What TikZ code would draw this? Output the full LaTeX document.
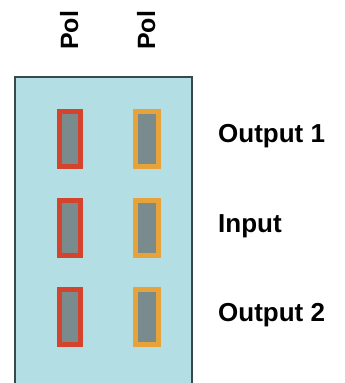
\documentclass[tikz,border=0pt]{standalone}
\usepackage{fontspec}
\setmainfont{Liberation Sans}
\definecolor{bgblue}{HTML}{B3DEE3}
\definecolor{padred}{HTML}{D4442C}
\definecolor{padorange}{HTML}{E8A23A}
\definecolor{padgray}{HTML}{7A8B8E}
\definecolor{frame}{HTML}{37494D}
\begin{document}
\begin{tikzpicture}[x=1pt,y=1pt,
  redpad/.style={rectangle,draw=padred,fill=padgray,line width=5pt,minimum width=21pt,minimum height=55pt,inner sep=0pt},
  orangepad/.style={rectangle,draw=padorange,fill=padgray,line width=5pt,minimum width=23pt,minimum height=55pt,inner sep=0pt},
  lab/.style={font=\fontsize{26}{29}\selectfont\bfseries,inner sep=0pt,anchor=base west},
  pollab/.style={font=\fontsize{25}{28}\selectfont\bfseries,inner sep=0pt,anchor=base west,rotate=90}]
\useasboundingbox (0,0) rectangle (345,383);
\begin{scope}
\clip (0,0) rectangle (345,383);
\draw[frame,line width=1.8pt,fill=bgblue] (15,-10) rectangle (192,306);
\end{scope}
\node[redpad] (r1) at (70,244) {};
\node[redpad] (r2) at (70,155) {};
\node[redpad] (r3) at (70,66) {};
\node[orangepad] (o1) at (147,244) {};
\node[orangepad] (o2) at (147,155) {};
\node[orangepad] (o3) at (147,66) {};
\node[pollab] (p1) at (78,333) {Pol};
\node[pollab] (p2) at (155,333) {Pol};
\node[lab] (t1) at (218,240) {Output 1};
\node[lab] (t2) at (218,150) {Input};
\node[lab] (t3) at (218,61) {Output 2};
\end{tikzpicture}
\end{document}
